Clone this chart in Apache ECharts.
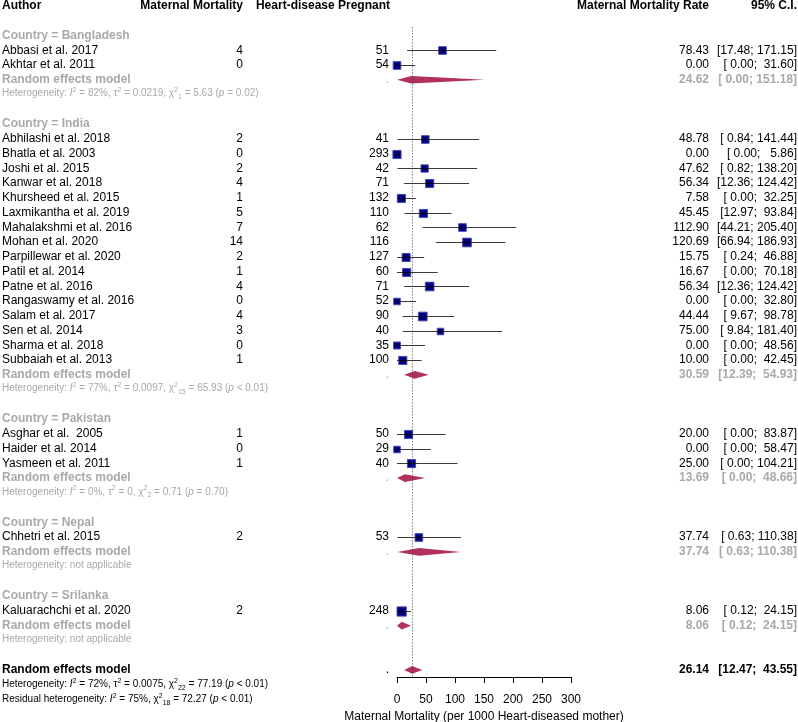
<!DOCTYPE html>
<html><head><meta charset="utf-8">
<script src="https://cdn.jsdelivr.net/npm/echarts@6/dist/echarts.min.js"></script>
<style>html,body{margin:0;padding:0;background:#fff}#chart{width:798px;height:722px}</style>
</head><body><div id="chart"></div>
<script>
// ---------------- DATA ----------------
const groupNames = ['Bangladesh', 'India', 'Pakistan', 'Nepal', 'Srilanka'];

const studyAuthors = [
  'Abbasi et al. 2017', 'Akhtar et al. 2011',
  'Abhilashi et al. 2018', 'Bhatla et al. 2003', 'Joshi et al. 2015', 'Kanwar et al. 2018',
  'Khursheed et al. 2015', 'Laxmikantha et al. 2019', 'Mahalakshmi et al. 2016', 'Mohan et al. 2020',
  'Parpillewar et al. 2020', 'Patil et al. 2014', 'Patne et al. 2016', 'Rangaswamy et al. 2016',
  'Salam et al. 2017', 'Sen et al. 2014', 'Sharma et al. 2018', 'Subbaiah et al. 2013',
  'Asghar et al.  2005', 'Haider et al. 2014', 'Yasmeen et al. 2011',
  'Chhetri et al. 2015',
  'Kaluarachchi et al. 2020'
];
const studyGroup = [0,0, 1,1,1,1,1,1,1,1,1,1,1,1,1,1,1,1, 2,2,2, 3, 4];
const studyDeaths = [4,0, 2,0,2,4,1,5,7,14,2,1,4,0,4,3,0,1, 1,0,1, 2, 2];
const studyPregnant = [51,54, 41,293,42,71,132,110,62,116,127,60,71,52,90,40,35,100, 50,29,40, 53, 248];
const studyRate = [78.43,0.00, 48.78,0.00,47.62,56.34,7.58,45.45,112.90,120.69,15.75,16.67,56.34,0.00,44.44,75.00,0.00,10.00, 20.00,0.00,25.00, 37.74, 8.06];
const studyLower = [17.48,0.00, 0.84,0.00,0.82,12.36,0.00,12.97,44.21,66.94,0.24,0.00,12.36,0.00,9.67,9.84,0.00,0.00, 0.00,0.00,0.00, 0.63, 0.12];
const studyUpper = [171.15,31.60, 141.44,5.86,138.20,124.42,32.25,93.84,205.40,186.93,46.88,70.18,124.42,32.80,98.78,181.40,48.56,42.45, 83.87,58.47,104.21, 110.38, 24.15];
const studyWeight = [4.5,4.5, 4.5,5.1,4.1,5.1,5.1,5.1,4.5,5.8,5.1,5.1,5.8,3.3,5.8,3.3,3.8,5.1, 5.1,3.3,5.1, 4.5, 6.6];

const groupRate  = [24.62, 30.59, 13.69, 37.74, 8.06];
const groupLower = [0.00, 12.39, 0.00, 0.63, 0.12];
const groupUpper = [151.18, 54.93, 48.66, 110.38, 24.15];
const groupI2   = ['82%', '77%', '0%', null, null];
const groupTau2 = ['0.0219', '0.0097', '0', null, null];
const groupDf   = ['1', '15', '2', null, null];
const groupQ    = ['5.63', '65.93', '0.71', null, null];
const groupP    = ['= 0.02', '< 0.01', '= 0.70', null, null];

const overallRate = 26.14, overallLower = 12.47, overallUpper = 43.55;
const overallHet = ['72%', '0.0075', '22', '77.19', '< 0.01'];
const residualHet = ['75%', '18', '72.27', '< 0.01'];

const headers = ['Author', 'Maternal Mortality', 'Heart-disease Pregnant', 'Maternal Mortality Rate', '95% C.I.'];
const xTicks = [0, 50, 100, 150, 200, 250, 300];
const xTitle = 'Maternal Mortality (per 1000 Heart-diseased mother)';

// ---------------- LAYOUT ----------------
const FONT = '"Liberation Sans", Arial, Helvetica, sans-serif';
const GREY = '#a9a9a9';
const COL = { author: 2, deaths: 243, n: 389, rate: 709, ci: 797 };
const NROWS = 45.48;

function ci(lo, hi) {
  return '[' + lo.toFixed(2).padStart(5, ' ') + '; ' + hi.toFixed(2).padStart(6, ' ') + ']';
}
function hetStr(i2, tau2, df, q, p) {
  let s = 'Heterogeneity: {it|I}{sup|2} = ' + i2 + ', ';
  if (tau2 !== null) s += '\u03c4{sup|2} = ' + tau2 + ', ';
  s += '\u03c7{sup|2}{sub|' + df + '} = ' + q + ' ({it|p} ' + p + ')';
  return s;
}

const rows = [];       // text rows
const studyMarks = []; // [est,row,lo,hi,w]
const diamonds = [];   // [est,row,lo,hi]
function cell(text, x, align, opt) { return Object.assign({ text, x, align, color: '#000', bold: false, size: 12 }, opt || {}); }

rows.push({ r: 0, dy: 0, cells: [
  cell(headers[0], COL.author, 'left', { bold: true }),
  cell(headers[1], COL.deaths, 'right', { bold: true }),
  cell(headers[2], COL.n + 1, 'right', { bold: true }),
  cell(headers[3], COL.rate, 'right', { bold: true }),
  cell(headers[4], COL.ci, 'right', { bold: true })
]});

let r = 2;
groupNames.forEach((g, gi) => {
  rows.push({ r: r++, dy: 0, cells: [cell('Country = ' + g, COL.author, 'left', { color: GREY, bold: true })] });
  studyAuthors.forEach((a, si) => {
    if (studyGroup[si] !== gi) return;
    rows.push({ r: r, dy: 0, cells: [
      cell(a, COL.author, 'left'),
      cell(String(studyDeaths[si]), COL.deaths, 'right'),
      cell(String(studyPregnant[si]), COL.n, 'right'),
      cell(studyRate[si].toFixed(2), COL.rate, 'right'),
      cell(ci(studyLower[si], studyUpper[si]), COL.ci, 'right')
    ]});
    studyMarks.push([studyRate[si], r, studyLower[si], studyUpper[si], studyWeight[si]]);
    r++;
  });
  rows.push({ r: r, dy: 0, cells: [
    cell('Random effects model', COL.author, 'left', { color: GREY, bold: true }),
    cell('.', COL.n, 'right', { color: GREY }),
    cell(groupRate[gi].toFixed(2), COL.rate, 'right', { color: GREY, bold: true }),
    cell(ci(groupLower[gi], groupUpper[gi]), COL.ci, 'right', { color: GREY, bold: true })
  ]});
  diamonds.push([groupRate[gi], r, groupLower[gi], groupUpper[gi]]);
  r++;
  const het = groupI2[gi] === null ? 'Heterogeneity: not applicable'
    : hetStr(groupI2[gi], groupTau2[gi], groupDf[gi], groupQ[gi], groupP[gi]);
  rows.push({ r: r++, dy: -1, cells: [cell(het, COL.author, 'left', { color: GREY, size: 10, rich: true })] });
  r++;
});
rows.push({ r: r, dy: 0, cells: [
  cell('Random effects model', COL.author, 'left', { bold: true }),
  cell('.', COL.n, 'right'),
  cell(overallRate.toFixed(2), COL.rate, 'right', { bold: true }),
  cell(ci(overallLower, overallUpper), COL.ci, 'right', { bold: true })
]});
diamonds.push([overallRate, r, overallLower, overallUpper]);
rows.push({ r: r + 1, dy: 0, cells: [cell(hetStr(overallHet[0], overallHet[1], overallHet[2], overallHet[3], overallHet[4]), COL.author, 'left', { size: 10, rich: true })] });
rows.push({ r: r + 2, dy: 0, cells: [cell('Residual ' + hetStr(residualHet[0], null, residualHet[1], residualHet[2], residualHet[3]).replace('Heterogeneity', 'heterogeneity'), COL.author, 'left', { size: 10, rich: true })] });

function richStyles(color) {
  return {
    it:  { fontStyle: 'italic', fontSize: 10, fontFamily: FONT, fill: color, lineHeight: 14 },
    sup: { fontSize: 7, fontFamily: FONT, fill: color, verticalAlign: 'top', lineHeight: 7 },
    sub: { fontSize: 7, fontFamily: FONT, fill: color, verticalAlign: 'bottom', lineHeight: 7 }
  };
}

// ---------------- CHART ----------------
const chart = echarts.init(document.getElementById('chart'), null, { renderer: 'canvas' });

function renderText(params, api) {
  const row = rows[api.value(2)];
  const y = api.coord([0, row.r])[1] + row.dy;
  return {
    type: 'group',
    children: row.cells.map(c => ({
      type: 'text',
      x: c.x, y: y,
      style: {
        text: c.text,
        fill: c.color,
        fontSize: c.size,
        fontFamily: FONT,
        fontWeight: c.bold ? 'bold' : 'normal',
        align: c.align,
        verticalAlign: 'middle',
        lineHeight: c.rich ? 14 : undefined,
        rich: c.rich ? richStyles(c.color) : undefined
      }
    }))
  };
}

function renderStudy(params, api) {
  const est = api.value(0), row = api.value(1), lo = api.value(2), hi = api.value(3), w = api.value(4);
  const c = api.coord([est, row]);
  const a = api.coord([lo, row]);
  const b = api.coord([hi, row]);
  const s = 3.6 * Math.sqrt(w);
  const y = Math.round(c[1]) + 0.5;
  return {
    type: 'group',
    children: [
      { type: 'line', shape: { x1: a[0], y1: y, x2: b[0], y2: y }, style: { stroke: '#3a3a3a', lineWidth: 1 } },
      { type: 'rect', shape: { x: c[0] - s / 2, y: y - s / 2, width: s, height: s }, style: { fill: '#000080', stroke: '#4a4aa8', lineWidth: 1 } },
      { type: 'line', shape: { x1: Math.max(a[0], c[0] - s / 2), y1: y, x2: Math.min(b[0], c[0] + s / 2), y2: y }, style: { stroke: '#000', lineWidth: 1 } }
    ]
  };
}

function renderDiamond(params, api) {
  const est = api.value(0), row = api.value(1), lo = api.value(2), hi = api.value(3);
  const c = api.coord([est, row]);
  const a = api.coord([lo, row]);
  const b = api.coord([hi, row]);
  const h = 3.8;
  return {
    type: 'polygon',
    shape: { points: [[a[0], c[1]], [c[0], c[1] - h], [b[0], c[1]], [c[0], c[1] + h]] },
    style: { fill: '#B03060', stroke: null }
  };
}

function renderRef(params, api) {
  const p1 = api.coord([api.value(0), api.value(1)]);
  const p2 = api.coord([api.value(0), api.value(2)]);
  return {
    type: 'line',
    shape: { x1: Math.round(p1[0]) + 0.5, y1: p1[1], x2: Math.round(p1[0]) + 0.5, y2: p2[1] },
    style: { stroke: '#444', lineWidth: 1, lineDash: [1, 2] }
  };
}

chart.setOption({
  animation: false,
  backgroundColor: '#fff',
  grid: { left: 397, right: 227, top: 6, bottom: 45, containLabel: false, outerBoundsMode: 'none' },
  xAxis: {
    type: 'value', position: 'bottom', min: xTicks[0], max: xTicks[xTicks.length - 1], interval: 50,
    splitLine: { show: false },
    axisLine: { show: true, onZero: false, lineStyle: { color: '#000', width: 1 } },
    axisTick: { show: true, length: 6, lineStyle: { color: '#000', width: 1 } },
    axisLabel: { color: '#000', fontSize: 12, fontFamily: FONT, margin: 17 },
    name: xTitle, nameLocation: 'middle', nameGap: 32,
    nameTextStyle: { color: '#000', fontSize: 12, fontFamily: FONT }
  },
  yAxis: { type: 'value', inverse: true, min: 0, max: NROWS, show: false, splitLine: { show: false } },
  series: [
    { type: 'custom', clip: false, renderItem: renderStudy, data: studyMarks, encode: { x: 0, y: 1 }, z: 2 },
    { type: 'custom', clip: false, renderItem: renderDiamond, data: diamonds, encode: { x: 0, y: 1 }, z: 2 },
    { type: 'custom', clip: false, renderItem: renderRef, data: [[overallRate, 1.45, NROWS]], encode: { x: 0, y: 1 }, z: 3 },
    { type: 'custom', clip: false, renderItem: renderText, data: rows.map((row, i) => [0, row.r, i]), encode: { x: 0, y: 1 }, z: 4 }
  ]
});
</script>
</body></html>
